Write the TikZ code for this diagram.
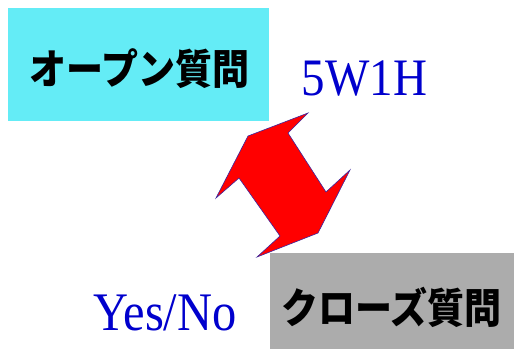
\documentclass[tikz,border=0pt]{standalone}
\usepackage{fontspec}
\setmainfont{Liberation Serif}
\newfontfamily\jp{Noto Sans CJK JP}
\definecolor{cyanfill}{RGB}{100,236,246}
\definecolor{grayfill}{RGB}{172,172,172}
\definecolor{labelblue}{RGB}{0,0,205}
\definecolor{arrowred}{RGB}{255,0,0}
\definecolor{edgeblue}{RGB}{60,40,160}
\tikzset{
  qbox/.style={inner sep=0pt, yscale=1.12, font=\jp\bfseries\fontsize{37}{40}\selectfont, text=black},
  blabel/.style={inner sep=0pt, anchor=base, text=labelblue, yscale=1.12, font=\fontsize{47}{50}\selectfont},
}
\begin{document}
\begin{tikzpicture}[x=1pt,y=-1pt]
\useasboundingbox (0,0) rectangle (514,349);
\fill[cyanfill] (8,8) rectangle (269,121);
\fill[grayfill] (270,253) rectangle (514,349);
\node[qbox] (open) at (139.5,69) {オープン質問};
\node[qbox] (close) at (391.5,307.5) {クローズ質問};
\node[blabel] (w) at (364.5,95) {5W1H};
\node[blabel, font=\fontsize{48.5}{50}\selectfont] (yn) at (165,330) {Yes/No};
\draw[fill=arrowred, draw=edgeblue, line width=0.6pt, line join=miter]
  (248,136) -- (308,113) -- (288,133) -- (326,192) -- (350,170)
  -- (318,233) -- (257,257) -- (280,236) -- (239,178) -- (216,198) -- cycle;
\end{tikzpicture}
\end{document}
